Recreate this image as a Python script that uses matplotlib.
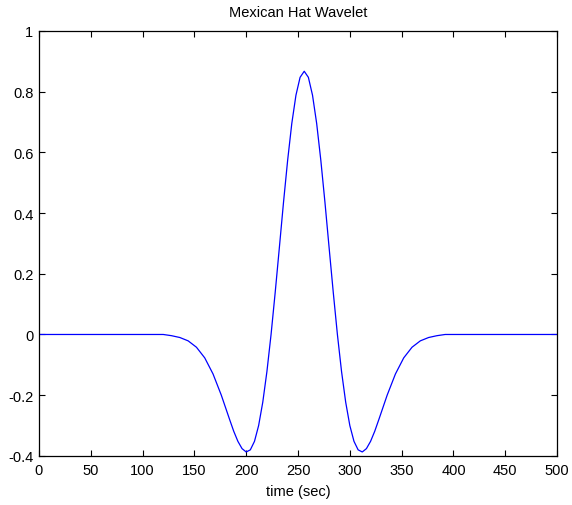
import matplotlib
matplotlib.use("Agg")
import matplotlib.pyplot as plt
from matplotlib.ticker import FormatStrFormatter

plt.rcParams['font.family'] = ['Liberation Sans', 'DejaVu Sans']
plt.rcParams['axes.unicode_minus'] = False

# samples (time in sec, amplitude)
t = [0, 120, 128, 136, 144, 152, 160, 168, 176,
     180, 184, 188, 192, 196, 200, 204, 208, 212, 216, 220, 224,
     228, 232, 236, 240, 244, 248, 252, 256, 260, 264, 268, 272,
     276, 280, 284, 288, 292, 296, 300, 304, 308, 312, 316, 320,
     324, 328, 332, 336, 344, 352, 360, 368, 376, 384, 392, 500]
y = [0, 0, -0.004, -0.010, -0.021, -0.042, -0.077, -0.130, -0.200,
     -0.240, -0.280, -0.319, -0.352, -0.376, -0.387, -0.380, -0.352, -0.300, -0.223, -0.122, 0.0,
     0.139, 0.286, 0.435, 0.574, 0.695, 0.788, 0.847, 0.867, 0.847, 0.788, 0.695, 0.574,
     0.435, 0.286, 0.139, 0.0, -0.122, -0.223, -0.300, -0.352, -0.380, -0.387, -0.376, -0.352,
     -0.319, -0.280, -0.240, -0.200, -0.130, -0.077, -0.042, -0.021, -0.010, -0.004, 0, 0]

xticks = [0, 50, 100, 150, 200, 250, 300, 350, 400, 450, 500]
yticks = [-0.4, -0.2, 0, 0.2, 0.4, 0.6, 0.8, 1]

fig = plt.figure(figsize=(5.72, 5.06), dpi=100)
ax = fig.add_axes([0.068, 0.097, 0.906, 0.840])
ax.plot(t, y, color=(0, 0, 1), linewidth=0.9)

ax.set_xlim(0, 500)
ax.set_ylim(-0.4, 1)
ax.set_xticks(xticks)
ax.set_yticks(yticks)
ax.yaxis.set_major_formatter(FormatStrFormatter('%g'))
ax.tick_params(direction='in', length=4, width=0.8, top=True, right=True,
               labelsize=10.5, colors='black')
ax.tick_params(axis='x', pad=5)
ax.tick_params(axis='y', pad=4)
for s in ax.spines.values():
    s.set_linewidth(0.9)
    s.set_color('black')

ax.set_title('Mexican Hat Wavelet', fontsize=10.5, pad=11)
ax.set_xlabel('time (sec)', fontsize=10.5, labelpad=5)

fig.savefig('out.png', dpi=100)
